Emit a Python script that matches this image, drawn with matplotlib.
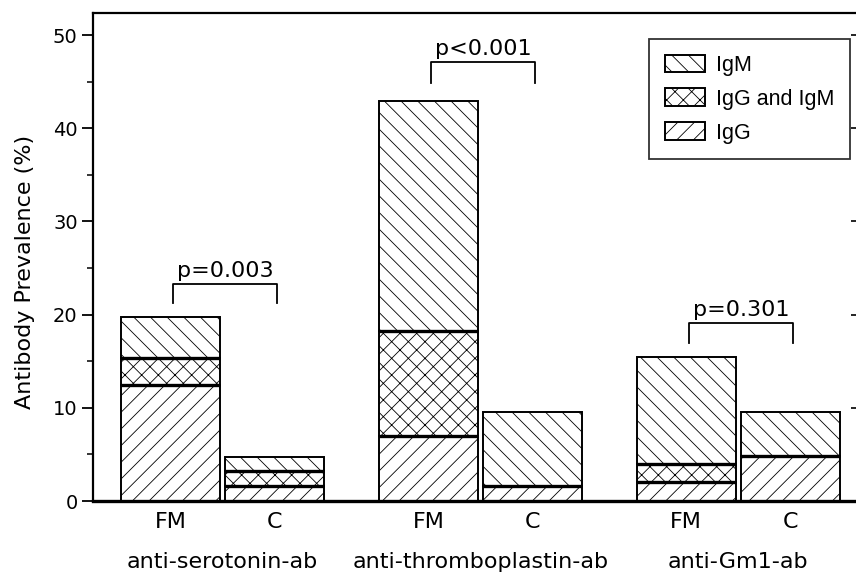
import matplotlib
matplotlib.use("Agg")
import matplotlib.pyplot as plt
import matplotlib.transforms as mtransforms
from matplotlib.patches import Patch
import numpy as np

plt.rcParams["font.family"] = ["DejaVu Sans"]
plt.rcParams["hatch.linewidth"] = 0.6
plt.rcParams["hatch.color"] = "#444444"

# data (%)
groups = ["anti-serotonin-ab", "anti-thromboplastin-ab", "anti-Gm1-ab"]
subjects = ["FM", "C"]
igg = [[12.4, 1.6], [7.0, 1.6], [2.0, 4.8]]
igg_igm = [[2.9, 1.6], [11.2, 0.0], [2.0, 0.0]]
igm = [[4.4, 1.5], [24.7, 7.9], [11.4, 4.7]]
p_text = ["p=0.003", "p<0.001", "p=0.301"]
p_top = [23.25, 47.1, 19.05]
p_leg = [21.2, 44.9, 17.0]

width = 0.384
offset = 0.403

fig = plt.figure(figsize=(8.56, 5.77), dpi=100)
ax = fig.add_axes([0.1086, 0.1317, 0.8925, 0.8463])

xs = []
for i in range(len(groups)):
    for j in range(len(subjects)):
        x = i - offset / 2 + j * offset
        xs.append(x)
        b0 = igg[i][j]
        b1 = igg_igm[i][j]
        b2 = igm[i][j]
        ax.bar(x, b0, width, color="white", edgecolor="black", hatch="//", linewidth=1.4)
        if b1 > 0:
            ax.bar(x, b1, width, bottom=b0, color="white", edgecolor="black", hatch="xx", linewidth=1.4)
        ax.bar(x, b2, width, bottom=b0 + b1, color="white", edgecolor="black", hatch="\\\\", linewidth=1.4)
        # thick separators between stacked parts
        seps = [b0, b0 + b1] if b1 > 0 else [b0]
        for yy in seps:
            ax.plot([x - width / 2, x + width / 2], [yy, yy], color="black", lw=2.4, solid_capstyle="butt")

# significance brackets
for i in range(len(groups)):
    x1 = i - offset / 2 + 0.012
    x2 = i + offset / 2 + 0.012
    top = p_top[i]
    ax.plot([x1, x1, x2, x2], [p_leg[i], top, top, p_leg[i]], color="black", lw=1.3)
    ax.text((x1 + x2) / 2, top + 0.75, p_text[i], ha="center", va="baseline", fontsize=16)

ax.set_xlim(-0.5016, 2.46)
ax.set_ylim(0, 52.4)
ax.set_yticks(np.arange(0, 51, 10))
ax.set_yticks(np.arange(5, 50, 10), minor=True)
ax.tick_params(axis="y", which="major", direction="out", length=8, width=1.3, labelsize=14, pad=3)
ax.tick_params(axis="y", which="minor", direction="out", length=4.5, width=1.1)

ax.set_xticks(xs)
ax.set_xticklabels(subjects * len(groups), fontsize=16)
ax.tick_params(axis="x", length=0, pad=8)

trans = mtransforms.blended_transform_factory(ax.transData, ax.transAxes)
for i, g in enumerate(groups):
    ax.text(i, -0.124, g, transform=trans, ha="center", va="center", fontsize=16)

ax.set_ylabel("Antibody Prevalence (%)", fontsize=16)
ax.yaxis.set_label_coords(-0.076, 0.47)

for side in ["left", "top"]:
    ax.spines[side].set_linewidth(1.6)
ax.spines["right"].set_visible(False)
ax.spines["bottom"].set_linewidth(2.4)

sec = ax.secondary_yaxis("right")
sec.set_yticks(np.arange(0, 51, 10))
sec.tick_params(direction="in", length=4, width=1.2, labelright=False)
sec.spines["right"].set_visible(False)

handles = [
    Patch(facecolor="white", edgecolor="black", hatch="\\\\", label="IgM"),
    Patch(facecolor="white", edgecolor="black", hatch="xx", label="IgG and IgM"),
    Patch(facecolor="white", edgecolor="black", hatch="//", label="IgG"),
]
leg = ax.legend(handles=handles, loc="upper right", bbox_to_anchor=(0.991, 0.946),
                prop={"family": "Liberation Sans", "size": 15.5},
                frameon=True, fancybox=False, edgecolor="black",
                handlelength=1.9, handleheight=0.9, borderpad=0.72, labelspacing=0.58,
                handletextpad=0.5, borderaxespad=0)
leg.get_frame().set_linewidth(1.3)
for h in leg.legend_handles:
    h.set_linewidth(1.4)

fig.savefig("out.png", dpi=100)
